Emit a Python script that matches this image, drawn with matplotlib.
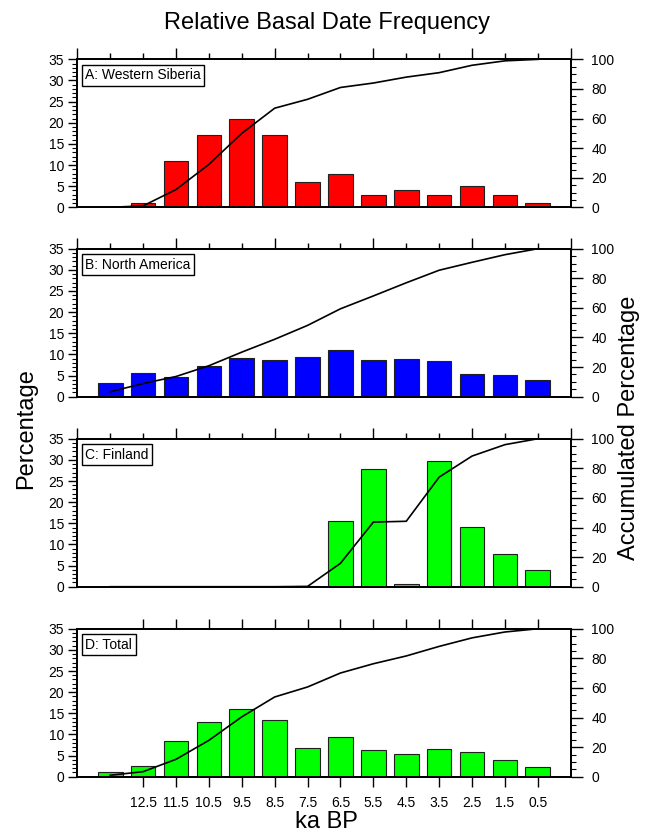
import numpy as np
import matplotlib
matplotlib.use('Agg')
import matplotlib.pyplot as plt
from matplotlib.ticker import MultipleLocator, FixedLocator

plt.rcParams['font.family'] = ['Liberation Sans', 'DejaVu Sans']

# bin centres, ka BP (oldest first)
ages = [13.5, 12.5, 11.5, 10.5, 9.5, 8.5, 7.5, 6.5, 5.5, 4.5, 3.5, 2.5, 1.5, 0.5]
tick_labels = ['12.5', '11.5', '10.5', '9.5', '8.5', '7.5', '6.5',
               '5.5', '4.5', '3.5', '2.5', '1.5', '0.5']

# relative frequency (%) of basal dates per bin
siberia = [0, 1, 11, 17, 21, 17, 6, 8, 3, 4, 3, 5, 3, 1]
america = [3.3, 5.5, 4.7, 7.2, 9.1, 8.6, 9.3, 11.1, 8.6, 8.8, 8.4, 5.3, 5.1, 4.0]
finland = [0, 0, 0, 0, 0, 0, 0.2, 15.6, 27.8, 0.55, 29.8, 14.2, 7.7, 4.0]
total = [1.0, 2.45, 8.4, 12.9, 16.0, 13.5, 6.8, 9.5, 6.3, 5.3, 6.5, 5.8, 4.0, 2.2]

panels = [('A: Western Siberia', siberia, '#ff0000'),
          ('B: North America', america, '#0000ff'),
          ('C: Finland', finland, '#00ff00'),
          ('D: Total', total, '#00ff00')]

fig = plt.figure(figsize=(6.53, 8.36), dpi=100)

left, width, height = 0.1184, 0.7556, 0.177
bottoms = [0.752, 0.5255, 0.2982, 0.0709]

for i, (name, vals, col) in enumerate(panels):
    ax = fig.add_axes([left, bottoms[i], width, height])
    vals = np.array(vals, dtype=float)
    ax.bar(ages, vals, width=0.75, color=col, edgecolor='#202020', linewidth=0.8, zorder=2)
    ax.set_xlim(14.5, -0.5)
    ax.set_ylim(0, 35)
    ax.yaxis.set_major_locator(MultipleLocator(5))
    ax.yaxis.set_minor_locator(MultipleLocator(1))
    ax.tick_params(axis='y', which='major', direction='out', length=6.5, width=1.0,
                   labelsize=10, pad=3, right=False)
    ax.tick_params(axis='y', which='minor', direction='out', length=3.4, width=0.8, right=False)

    if i < 3:
        ax.xaxis.set_major_locator(FixedLocator([14.5, 11.5, 8.5, 5.5, 2.5, -0.5]))
        ax.xaxis.set_minor_locator(FixedLocator(np.arange(14.5, -0.6, -1.0)))
        ax.tick_params(axis='x', which='both', direction='out', top=True, bottom=False,
                       labelbottom=False, width=1.0)
        ax.tick_params(axis='x', which='major', length=8)
        ax.tick_params(axis='x', which='minor', length=4)
    else:
        ax.set_xticks(ages[1:])
        ax.set_xticklabels(tick_labels)
        ax.tick_params(axis='x', which='both', direction='out', top=True, bottom=True,
                       length=7.5, width=1.0, labelsize=10, pad=6.5)
        ax.xaxis.set_minor_locator(FixedLocator([]))

    for s in ax.spines.values():
        s.set_linewidth(1.3)

    # accumulated percentage on the right-hand axis
    ax2 = ax.twinx()
    cum = np.cumsum(vals) / vals.sum() * 100
    ax2.plot(ages, cum, color='black', linewidth=1.2, zorder=3)
    ax2.set_ylim(0, 100)
    ax2.yaxis.set_major_locator(MultipleLocator(20))
    ax2.yaxis.set_minor_locator(MultipleLocator(5))
    ax2.tick_params(axis='y', which='major', direction='out', length=8.4, width=1.0,
                    labelsize=10, pad=6.5)
    ax2.tick_params(axis='y', which='minor', direction='out', length=3.8, width=0.8)
    for s in ax2.spines.values():
        s.set_linewidth(1.3)

    ax2.text(0.016, 0.94, name, transform=ax2.transAxes, fontsize=10,
             ha='left', va='top', zorder=5,
             bbox=dict(boxstyle='square,pad=0.25', fc='white', ec='black', lw=1.0))

fig.text(0.5, 0.965, 'Relative Basal Date Frequency', ha='center', va='baseline', fontsize=17)
fig.text(0.040, 0.487, 'Percentage', rotation=90, ha='center', va='center', fontsize=17)
fig.text(0.964, 0.488, 'Accumulated Percentage', rotation=90, ha='center', va='center',
         fontsize=17)
fig.text(0.5, 0.003, 'ka BP', ha='center', va='bottom', fontsize=17)

fig.savefig('out.png', dpi=100)
